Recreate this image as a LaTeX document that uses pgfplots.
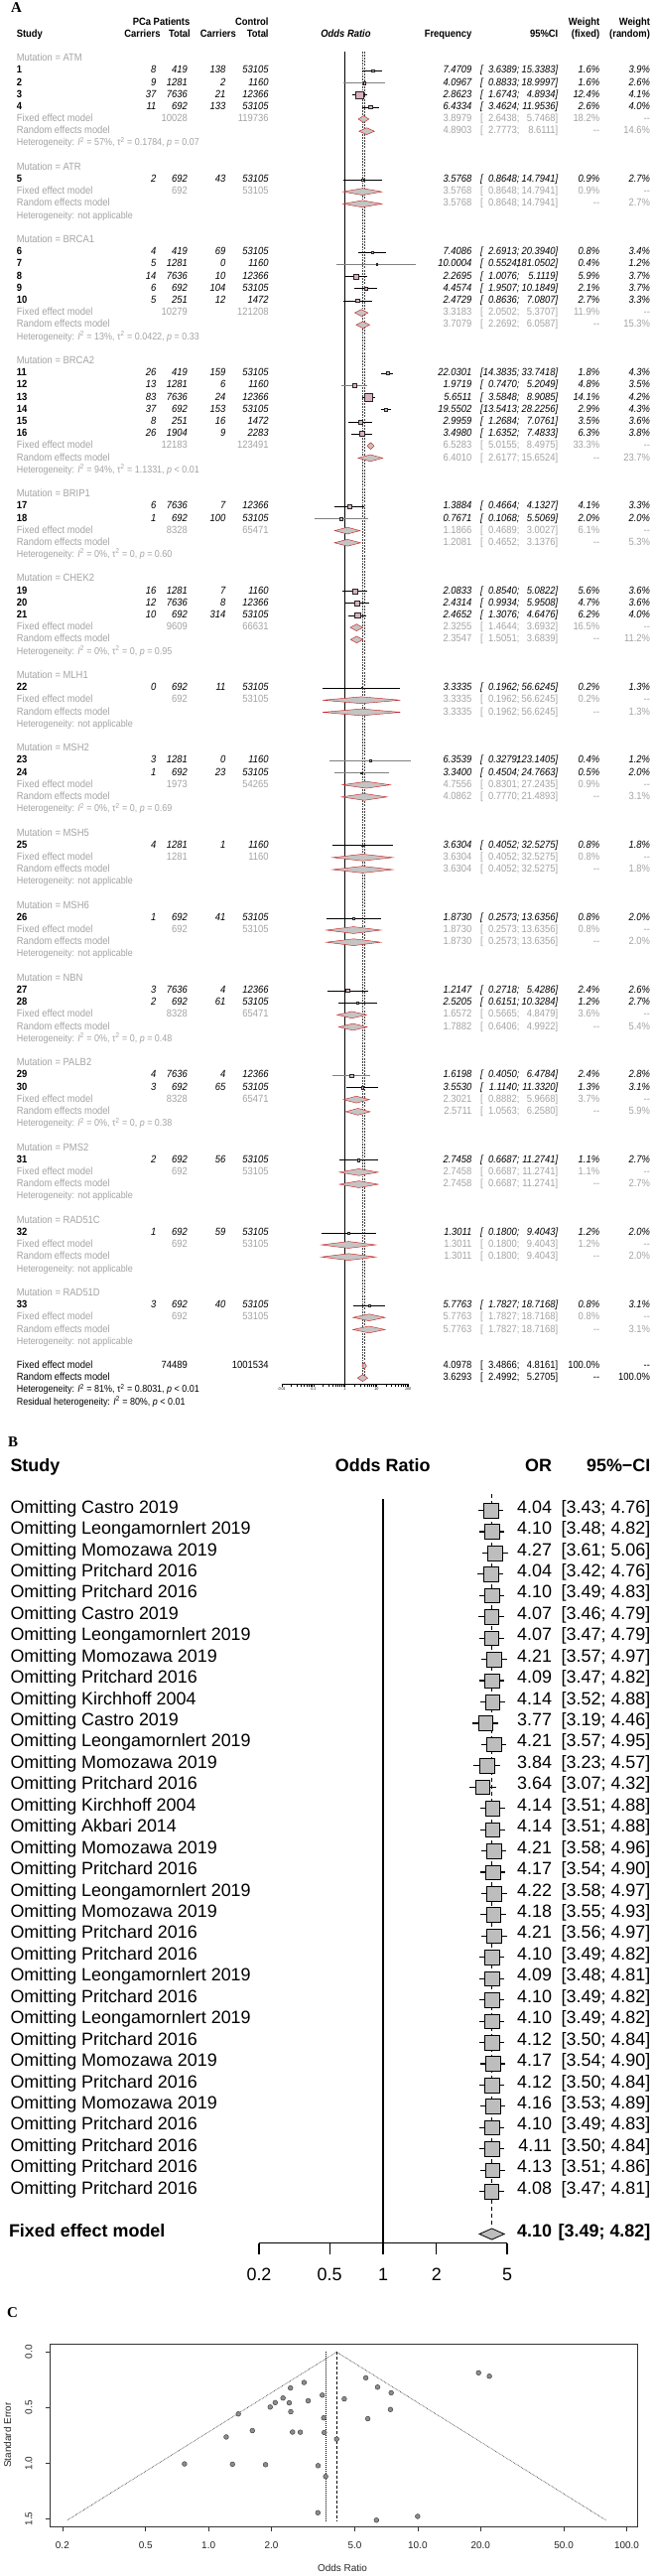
\documentclass[border=0pt]{standalone}
\usepackage{fontspec}
\setmainfont{Liberation Sans}
\newfontfamily\nA{Liberation Sans}[FakeStretch=0.9]
\newfontfamily\serifB{Liberation Serif}
\usepackage{pgfplots}
\pgfplotsset{compat=1.18}
\definecolor{gtxt}{HTML}{A3A3A3}
\definecolor{sqpink}{HTML}{D9B0C2}
\definecolor{dfill}{HTML}{C4C4C4}
\definecolor{dred}{HTML}{CC2222}
\definecolor{bgrey}{HTML}{BDBDBD}
\definecolor{cigrey}{HTML}{808080}

% ---------- Panel A data: L/study/c1/n1/c2/n2/OR/lo/hi/wfixed/wrandom/linecolour
\def\Alist{1/1/8/419/138/53105/7.4709/3.6389/15.3383/1.6/3.9/black,
2/2/9/1281/2/1160/4.0967/0.8833/18.9997/1.6/2.6/cigrey,
3/3/37/7636/21/12366/2.8623/1.6743/4.8934/12.4/4.1/black,
4/4/11/692/133/53105/6.4334/3.4624/11.9536/2.6/4.0/black,
10/5/2/692/43/53105/3.5768/0.8648/14.7941/0.9/2.7/black,
16/6/4/419/69/53105/7.4086/2.6913/20.3940/0.8/3.4/black,
17/7/5/1281/0/1160/10.0004/0.5524/181.0502/0.4/1.2/cigrey,
18/8/14/7636/10/12366/2.2695/1.0076/5.1119/5.9/3.7/black,
19/9/6/692/104/53105/4.4574/1.9507/10.1849/2.1/3.7/black,
20/10/5/251/12/1472/2.4729/0.8636/7.0807/2.7/3.3/black,
26/11/26/419/159/53105/22.0301/14.3835/33.7418/1.8/4.3/black,
27/12/13/1281/6/1160/1.9719/0.7470/5.2049/4.8/3.5/cigrey,
28/13/83/7636/24/12366/5.6511/3.5848/8.9085/14.1/4.2/black,
29/14/37/692/153/53105/19.5502/13.5413/28.2256/2.9/4.3/black,
30/15/8/251/16/1472/2.9959/1.2684/7.0761/3.5/3.6/black,
31/16/26/1904/9/2283/3.4980/1.6352/7.4833/6.3/3.8/black,
37/17/6/7636/7/12366/1.3884/0.4664/4.1327/4.1/3.3/black,
38/18/1/692/100/53105/0.7671/0.1068/5.5069/2.0/2.0/cigrey,
44/19/16/1281/7/1160/2.0833/0.8540/5.0822/5.6/3.6/black,
45/20/12/7636/8/12366/2.4314/0.9934/5.9508/4.7/3.6/black,
46/21/10/692/314/53105/2.4652/1.3076/4.6476/6.2/4.0/black,
52/22/0/692/11/53105/3.3335/0.1962/56.6245/0.2/1.3/black,
58/23/3/1281/0/1160/6.3539/0.3279/123.1405/0.4/1.2/cigrey,
59/24/1/692/23/53105/3.3400/0.4504/24.7663/0.5/2.0/cigrey,
65/25/4/1281/1/1160/3.6304/0.4052/32.5275/0.8/1.8/black,
71/26/1/692/41/53105/1.8730/0.2573/13.6356/0.8/2.0/black,
77/27/3/7636/4/12366/1.2147/0.2718/5.4286/2.4/2.6/black,
78/28/2/692/61/53105/2.5205/0.6151/10.3284/1.2/2.7/black,
84/29/4/7636/4/12366/1.6198/0.4050/6.4784/2.4/2.8/cigrey,
85/30/3/692/65/53105/3.5530/1.1140/11.3320/1.3/3.1/black,
91/31/2/692/56/53105/2.7458/0.6687/11.2741/1.1/2.7/black,
97/32/1/692/59/53105/1.3011/0.1800/9.4043/1.2/2.0/black,
103/33/3/692/40/53105/5.7763/1.7827/18.7168/0.8/3.1/black}
% fixed-effect subgroup rows: L/n1/n2/OR/lo/hi/weight
\def\Flist{5/10028/119736/3.8979/2.6438/5.7468/18.2,
11/692/53105/3.5768/0.8648/14.7941/0.9,
21/10279/121208/3.3183/2.0502/5.3707/11.9,
32/12183/123491/6.5283/5.0155/8.4975/33.3,
39/8328/65471/1.1866/0.4689/3.0027/6.1,
47/9609/66631/2.3255/1.4644/3.6932/16.5,
53/692/53105/3.3335/0.1962/56.6245/0.2,
60/1973/54265/4.7556/0.8301/27.2435/0.9,
66/1281/1160/3.6304/0.4052/32.5275/0.8,
72/692/53105/1.8730/0.2573/13.6356/0.8,
79/8328/65471/1.6572/0.5665/4.8479/3.6,
86/8328/65471/2.3021/0.8882/5.9668/3.7,
92/692/53105/2.7458/0.6687/11.2741/1.1,
98/692/53105/1.3011/0.1800/9.4043/1.2,
104/692/53105/5.7763/1.7827/18.7168/0.8}
% random-effects subgroup rows: L/OR/lo/hi/weight
\def\Rlist{6/4.8903/2.7773/8.6111/14.6,
12/3.5768/0.8648/14.7941/2.7,
22/3.7079/2.2692/6.0587/15.3,
33/6.4010/2.6177/15.6524/23.7,
40/1.2081/0.4652/3.1376/5.3,
48/2.3547/1.5051/3.6839/11.2,
54/3.3335/0.1962/56.6245/1.3,
61/4.0862/0.7770/21.4893/3.1,
67/3.6304/0.4052/32.5275/1.8,
73/1.8730/0.2573/13.6356/2.0,
80/1.7882/0.6406/4.9922/5.4,
87/2.5711/1.0563/6.2580/5.9,
93/2.7458/0.6687/11.2741/2.7,
99/1.3011/0.1800/9.4043/2.0,
105/5.7763/1.7827/18.7168/3.1}
% ---------- Panel B data: row/name/OR/lo/hi
\def\Blist{1/Castro 2019/4.04/3.43/4.76,
2/Leongamornlert 2019/4.10/3.48/4.82,
3/Momozawa 2019/4.27/3.61/5.06,
4/Pritchard 2016/4.04/3.42/4.76,
5/Pritchard 2016/4.10/3.49/4.83,
6/Castro 2019/4.07/3.46/4.79,
7/Leongamornlert 2019/4.07/3.47/4.79,
8/Momozawa 2019/4.21/3.57/4.97,
9/Pritchard 2016/4.09/3.47/4.82,
10/Kirchhoff 2004/4.14/3.52/4.88,
11/Castro 2019/3.77/3.19/4.46,
12/Leongamornlert 2019/4.21/3.57/4.95,
13/Momozawa 2019/3.84/3.23/4.57,
14/Pritchard 2016/3.64/3.07/4.32,
15/Kirchhoff 2004/4.14/3.51/4.88,
16/Akbari 2014/4.14/3.51/4.88,
17/Momozawa 2019/4.21/3.58/4.96,
18/Pritchard 2016/4.17/3.54/4.90,
19/Leongamornlert 2019/4.22/3.58/4.97,
20/Momozawa 2019/4.18/3.55/4.93,
21/Pritchard 2016/4.21/3.56/4.97,
22/Pritchard 2016/4.10/3.49/4.82,
23/Leongamornlert 2019/4.09/3.48/4.81,
24/Pritchard 2016/4.10/3.49/4.82,
25/Leongamornlert 2019/4.10/3.49/4.82,
26/Pritchard 2016/4.12/3.50/4.84,
27/Momozawa 2019/4.17/3.54/4.90,
28/Pritchard 2016/4.12/3.50/4.84,
29/Momozawa 2019/4.16/3.53/4.89,
30/Pritchard 2016/4.10/3.49/4.83,
31/Pritchard 2016/4.11/3.50/4.84,
32/Pritchard 2016/4.13/3.51/4.86,
33/Pritchard 2016/4.08/3.47/4.81}

\newcommand\diam[5]{%
 \pgfmathsetmacro\dyc{-#1}\pgfmathsetmacro\dyt{-#1+#5}\pgfmathsetmacro\dyb{-#1-#5}%
 \edef\temp{\noexpand\addplot[fill=dfill, draw=dred, line width=0.45pt] coordinates {(#3,\dyc) (#2,\dyt) (#4,\dyc) (#2,\dyb)} -- cycle;}\temp}

% column positions of panel A
\def\xOR{475.4}\def\xBr{484}\def\xLo{523.5}\def\xHi{562.3}\def\xWf{604.2}\def\xWr{655}

\tikzset{
 nb/.style={inner sep=0pt, outer sep=0pt},
 tA/.style={nb, anchor=mid east, font=\nA\fontsize{10.5}{12}\selectfont},
 iA/.style={nb, anchor=mid east, font=\nA\itshape\fontsize{10.5}{12}\selectfont},
 bA/.style={nb, anchor=mid east, font=\nA\bfseries\fontsize{10.5}{12}\selectfont},
 gA/.style={tA, text=gtxt},
 hA/.style={nb, anchor=mid west, font=\nA\fontsize{10}{12}\selectfont, text=gtxt},
 tB/.style={nb, anchor=mid east, font=\fontsize{18}{20}\selectfont},
 bB/.style={nb, anchor=mid east, font=\bfseries\fontsize{18}{20}\selectfont},
 lab/.style={nb, anchor=mid west, font=\serifB\bfseries\fontsize{15}{15}\selectfont},
 tC/.style={nb, font=\fontsize{10}{11}\selectfont, text=black!85},
}
\newcommand\HI[4]{\node[hA] at (16.8,#1) {Heterogeneity: \textit{I}\textsuperscript{2} = #2\%, τ\textsuperscript{2} = #3, \textit{p} #4};}
\newcommand\HN[1]{\node[hA] at (16.8,#1) {Heterogeneity: not applicable};}

\begin{document}
\begin{tikzpicture}
\path[use as bounding box] (0,0) rectangle (658bp,-2595bp);

% ================= PANEL A : plot =================
\begin{axis}[at={(284bp,-1394bp)}, anchor=south west, scale only axis,
  width=127.2bp, height=1342.3bp, xmode=log, xmin=0.01, xmax=100,
  ymin=-109.48, ymax=0.6, axis x line*=bottom, axis y line=none, clip=false,
  xtick={0.01,0.1,1,10,100}, xticklabels={0.01,0.1,1,10,100}, minor xtick={},
  tick align=outside, major tick length=3bp,
  x axis line style={line width=0.4pt,-}, tick style={black, line width=0.4pt},
  xticklabel style={font=\nA\itshape\fontsize{4}{5}\selectfont, inner sep=1pt}]
\addplot[black, line width=0.5pt] coordinates {(1,0.6) (1,-109.48)};
\addplot[black!75, dash pattern=on 2pt off 1.2pt, line width=0.4pt] coordinates {(4.0978,0.6) (4.0978,-108.8)};
\addplot[black!75, dash pattern=on 0.8pt off 0.8pt, line width=0.4pt] coordinates {(3.6293,0.6) (3.6293,-109.3)};
\foreach \ya/\nn/\ca/\na/\cb/\nb/\mm/\la/\ha/\wf/\wr/\cc in \Alist {
  \pgfmathsetmacro\ms{1.05*sqrt(\wf)}
  \edef\temp{\noexpand\addplot[only marks, mark=square*, mark size=\ms bp, mark options={fill=sqpink, draw=black!85, line width=0.35pt}] coordinates {(\mm,-\ya)};
  \noexpand\addplot[\cc, line width=0.55pt] coordinates {(\la,-\ya) (\ha,-\ya)};}
  \temp
}
\foreach \ya/\na/\nb/\mm/\la/\ha/\wf in \Flist {\diam{\ya}{\mm}{\la}{\ha}{0.28}}
\foreach \ya/\mm/\la/\ha/\wr in \Rlist {\diam{\ya}{\mm}{\la}{\ha}{0.28}}
\diam{108}{4.0978}{3.4866}{4.8161}{0.28}
\diam{109}{3.6293}{2.4992}{5.2705}{0.28}
\end{axis}

% ================= PANEL A : text =================
\begin{scope}[x=1bp, y=-12.194bp, shift={(0bp,-59bp)}]
\node[lab] at (11,-4) {A};
\node[bA, anchor=mid] at (162.6,-3) {PCa Patients};
\node[bA] at (270.6,-3) {Control};
\node[bA] at (\xWf,-3) {Weight};
\node[bA] at (\xWr,-3) {Weight};
\node[bA, anchor=mid west] at (16.8,-2) {Study};
\node[bA] at (161.5,-2) {Carriers};
\node[bA] at (191.8,-2) {Total};
\node[bA] at (237.9,-2) {Carriers};
\node[bA] at (270.6,-2) {Total};
\node[bA, anchor=mid, font=\nA\bfseries\itshape\fontsize{10.5}{12}\selectfont] at (348.5,-2) {Odds Ratio};
\node[bA] at (\xOR,-2) {Frequency};
\node[bA] at (\xHi,-2) {95\%CI};
\node[bA] at (\xWf,-2) {(fixed)};
\node[bA] at (\xWr,-2) {(random)};
\foreach \ya/\g in {0/ATM,9/ATR,15/BRCA1,25/BRCA2,36/BRIP1,43/CHEK2,51/MLH1,57/MSH2,64/MSH5,70/MSH6,76/NBN,83/PALB2,90/PMS2,96/RAD51C,102/RAD51D}
  {\node[gA, anchor=mid west] at (16.8,\ya) {Mutation = \g};}
\foreach \ya/\nn/\ca/\na/\cb/\nb/\mm/\la/\ha/\wf/\wr/\cc in \Alist {
  \node[bA, anchor=mid west] at (16.8,\ya) {\nn};
  \node[iA] at (157.4,\ya) {\ca};
  \node[iA] at (188.8,\ya) {\na};
  \node[iA] at (227.4,\ya) {\cb};
  \node[iA] at (270.6,\ya) {\nb};
  \node[iA] at (\xOR,\ya) {\mm};
  \node[iA, anchor=mid west] at (\xBr,\ya) {[};
  \node[iA] at (\xLo,\ya) {\la;};
  \node[iA] at (\xHi,\ya) {\ha]};
  \node[iA] at (\xWf,\ya) {\wf\%};
  \node[iA] at (\xWr,\ya) {\wr\%};
}
\foreach \ya/\na/\nb/\mm/\la/\ha/\wf in \Flist {
  \node[gA, anchor=mid west] at (16.8,\ya) {Fixed effect model};
  \node[gA] at (188.8,\ya) {\na};
  \node[gA] at (270.6,\ya) {\nb};
  \node[gA] at (\xOR,\ya) {\mm};
  \node[gA, anchor=mid west] at (\xBr,\ya) {[};
  \node[gA] at (\xLo,\ya) {\la;};
  \node[gA] at (\xHi,\ya) {\ha]};
  \node[gA] at (\xWf,\ya) {\wf\%};
  \node[gA] at (\xWr,\ya) {-{}-};
}
\foreach \ya/\mm/\la/\ha/\wr in \Rlist {
  \node[gA, anchor=mid west] at (16.8,\ya) {Random effects model};
  \node[gA] at (\xOR,\ya) {\mm};
  \node[gA, anchor=mid west] at (\xBr,\ya) {[};
  \node[gA] at (\xLo,\ya) {\la;};
  \node[gA] at (\xHi,\ya) {\ha]};
  \node[gA] at (\xWf,\ya) {-{}-};
  \node[gA] at (\xWr,\ya) {\wr\%};
}
\HI{7}{57}{0.1784}{= 0.07}
\HN{13}
\HI{23}{13}{0.0422}{= 0.33}
\HI{34}{94}{1.1331}{< 0.01}
\HI{41}{0}{0}{= 0.60}
\HI{49}{0}{0}{= 0.95}
\HN{55}
\HI{62}{0}{0}{= 0.69}
\HN{68}
\HN{74}
\HI{81}{0}{0}{= 0.48}
\HI{88}{0}{0}{= 0.38}
\HN{94}
\HN{100}
\HN{106}
% overall
\node[tA, anchor=mid west] at (16.8,108) {Fixed effect model};
\node[tA] at (188.8,108) {74489};
\node[tA] at (270.6,108) {1001534};
\node[tA] at (\xOR,108) {4.0978};
\node[tA, anchor=mid west] at (\xBr,108) {[};
\node[tA] at (\xLo,108) {3.4866;};
\node[tA] at (\xHi,108) {4.8161]};
\node[tA] at (\xWf,108) {100.0\%};
\node[tA] at (\xWr,108) {-{}-};
\node[tA, anchor=mid west] at (16.8,109) {Random effects model};
\node[tA] at (\xOR,109) {3.6293};
\node[tA, anchor=mid west] at (\xBr,109) {[};
\node[tA] at (\xLo,109) {2.4992;};
\node[tA] at (\xHi,109) {5.2705]};
\node[tA] at (\xWf,109) {-{}-};
\node[tA] at (\xWr,109) {100.0\%};
\node[hA, text=black] at (16.8,110) {Heterogeneity: \textit{I}\textsuperscript{2} = 81\%, τ\textsuperscript{2} = 0.8031, \textit{p} < 0.01};
\node[hA, text=black] at (16.8,111) {Residual heterogeneity: \textit{I}\textsuperscript{2} = 80\%, \textit{p} < 0.01};
\end{scope}

% ================= PANEL B : plot =================
\begin{axis}[at={(261bp,-2259.7bp)}, anchor=south west, scale only axis,
  width=250bp, height=754.7bp, xmode=log, xmin=0.2, xmax=5,
  ymin=-35.43, ymax=-0.23, axis x line*=bottom, axis y line=none, clip=false,
  xtick={0.2,0.5,1,2,5}, xticklabels={0.2,0.5,1,2,5}, minor xtick={},
  tick align=outside, major tick length=11.7bp,
  x axis line style={line width=1.3pt,-}, tick style={black, line width=1.3pt},
  xticklabel style={font=\fontsize{18}{20}\selectfont}, xticklabel shift=10bp]
\addplot[black, line width=1.3pt] coordinates {(1,-0.46) (1,-35.43)};
\foreach \ya/\nm/\mm/\la/\ha in \Blist {
  \edef\temp{\noexpand\addplot[only marks, mark=square*, mark size=7.3bp, mark options={fill=bgrey, draw=none}] coordinates {(\mm,-\ya)};
  \noexpand\addplot[black, line width=1.2pt] coordinates {(\la,-\ya) (\ha,-\ya)};}
  \temp
}
\addplot[black, dash pattern=on 4pt off 3pt, line width=0.6pt] coordinates {(4.10,-0.23) (4.10,-34.6)};
\addplot[fill=bgrey, draw=black, line width=0.8pt] coordinates {(3.49,-35) (4.10,-34.74) (4.82,-35) (4.10,-35.26)} -- cycle;
\end{axis}

% ================= PANEL B : text =================
\begin{scope}[x=1bp, y=-21.44bp, shift={(0bp,-1500.06bp)}]
\node[lab] at (8,-2.1) {B};
\node[bB, anchor=mid west] at (10.5,-0.936) {Study};
\node[bB, anchor=mid] at (385.7,-0.936) {Odds Ratio};
\node[bB] at (556,-0.936) {OR};
\node[bB] at (655.4,-0.936) {95\%−CI};
\foreach \ya/\nm/\mm/\la/\ha in \Blist {
  \node[tB, anchor=mid west] at (10.5,\ya) {Omitting \nm};
  \node[tB] at (556,\ya) {\mm};
  \node[tB] at (655.4,\ya) {[\la; \ha]};
}
\node[bB, anchor=mid west] at (9,35) {Fixed effect model};
\node[bB] at (556,35) {4.10};
\node[bB] at (655.4,35) {[3.49; 4.82]};
\end{scope}

% ================= PANEL C : funnel plot =================
\begin{axis}[at={(50.4bp,-2545bp)}, anchor=south west, scale only axis,
  width=591.6bp, height=183.3bp, xmode=log, xmin=0.1745, xmax=112.1,
  ymin=-1.568, ymax=0.068, clip=false,
  xtick={0.2,0.5,1,2,5,10,20,50,100},
  xticklabels={0.2,0.5,1.0,2.0,5.0,10.0,20.0,50.0,100.0}, minor xtick={},
  ytick={-1.5,-1,-0.5,0}, yticklabels={1.5,1.0,0.5,0.0},
  xtick pos=left, ytick pos=left, tick align=outside, major tick length=4.5bp,
  tick style={black!80, line width=0.5pt}, axis line style={black!80, line width=0.6pt},
  ticklabel style={font=\fontsize{10}{11}\selectfont, text=black!85},
  yticklabel style={rotate=90, anchor=south}, xticklabel shift=7bp, yticklabel shift=10bp]
\addplot[black!80, dash pattern=on 0.8pt off 0.8pt, line width=0.5pt] coordinates {(0.2112,-1.512) (4.0978,0) (79.5,-1.512)};
\addplot[black, dash pattern=on 3pt off 2pt, line width=0.45pt] coordinates {(4.0978,0) (4.0978,-1.512)};
\addplot[black, dash pattern=on 1pt off 1pt, line width=0.45pt] coordinates {(3.6293,0) (3.6293,-1.512)};
\addplot[only marks, mark=*, mark size=2.4bp, mark options={fill=black!45, draw=black!80, line width=0.4pt}] table {
x y
7.4709 -0.367
4.0967 -0.783
2.8623 -0.274
6.4334 -0.316
3.5768 -0.724
7.4086 -0.517
10.0004 -1.478
2.2695 -0.414
4.4574 -0.422
2.4729 -0.537
22.0301 -0.2175
1.9719 -0.495
5.6511 -0.232
19.5502 -0.187
2.9959 -0.4385
3.4980 -0.388
1.3884 -0.557
0.7671 -1.006
2.0833 -0.455
2.4314 -0.457
2.4652 -0.3235
3.3335 -1.445
6.3539 -1.512
3.3400 -1.022
3.6304 -1.119
1.8730 -1.013
1.2147 -0.764
2.5205 -0.720
1.6198 -0.707
3.5530 -0.592
2.7458 -0.721
1.3011 -1.009
5.7763 -0.600
};
\end{axis}
\begin{scope}[x=1bp, y=-1bp]
\node[lab] at (7,2331.7) {C};
\node[tC, rotate=90] at (7.5,2453) {Standard Error};
\node[tC] at (345,2587) {Odds Ratio};
\end{scope}
\end{tikzpicture}
\end{document}
